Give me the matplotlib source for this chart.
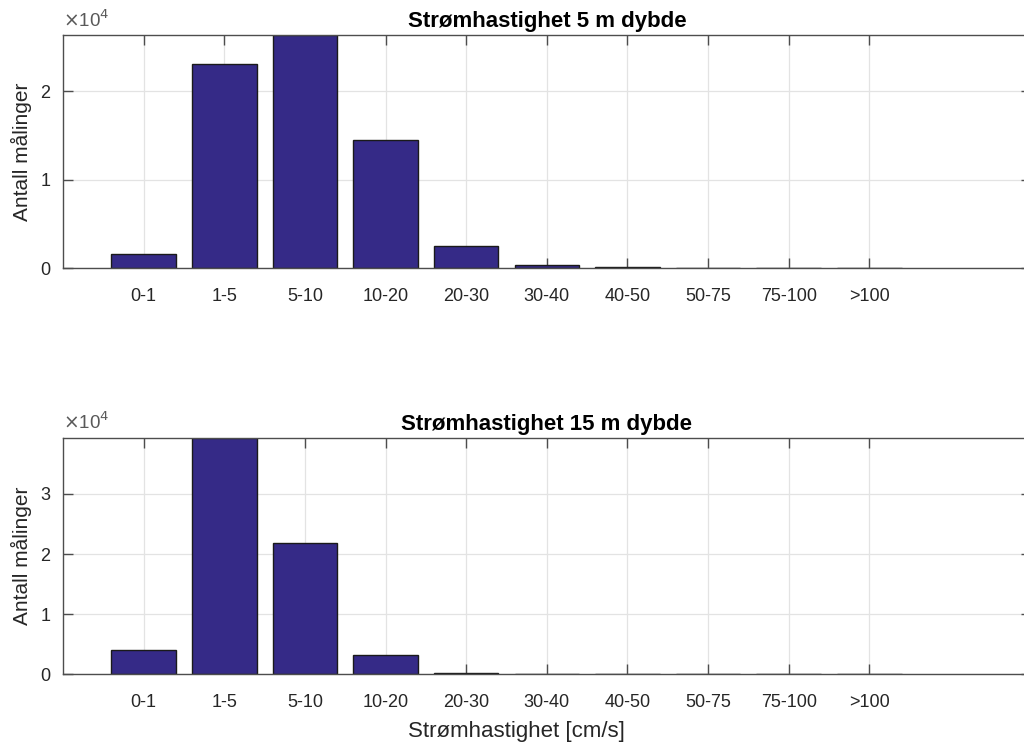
import numpy as np
import matplotlib
matplotlib.use("Agg")
import matplotlib.pyplot as plt

# speed classes (cm/s) and number of measurements in each class
classes = ["0-1", "1-5", "5-10", "10-20", "20-30", "30-40", "40-50", "50-75", "75-100", ">100"]
count_5m = [1580, 23050, 26300, 14460, 2490, 400, 80, 20, 10, 5]
count_15m = [4000, 39300, 21800, 3170, 150, 20, 5, 2, 1, 0]

plt.rcParams['font.family'] = ['Liberation Sans', 'DejaVu Sans']

bar_col = "#352a87"
axis_col = "#4d4d4d"
grid_col = "#e3e3e3"


def count_panel(ax, counts, title, ymax, yticks):
    x = np.arange(1, len(classes) + 1)
    ax.bar(x, np.array(counts) / 1e4, width=0.8, color=bar_col,
           edgecolor="#1a1a1a", linewidth=1.0, zorder=2)
    ax.set_xlim(0, 12)
    ax.set_ylim(0, ymax / 1e4)
    ax.set_xticks(x)
    ax.set_xticklabels(classes, fontsize=13, color="#262626")
    ax.set_yticks(yticks)
    ax.set_yticklabels([str(t) for t in yticks], fontsize=13, color="#262626")
    ax.grid(True, color=grid_col, linewidth=0.9, zorder=0)
    ax.set_axisbelow(True)
    ax.tick_params(direction="in", length=7, width=1.0, color=axis_col,
                   top=True, right=True)
    ax.tick_params(axis="x", pad=14)
    ax.tick_params(axis="y", pad=9)
    for s in ax.spines.values():
        s.set_color(axis_col)
        s.set_linewidth(1.0)
    ax.set_ylabel("Antall målinger", fontsize=15, color="#262626", labelpad=6)
    ax.set_title(title, fontsize=16, fontweight="bold", pad=6)
    ax.text(0.0, 1.02, r"$\times$10$^{4}$", transform=ax.transAxes,
            fontsize=13.5, color="#595959", ha="left", va="bottom")


fig = plt.figure(figsize=(10.24, 7.49), dpi=100)
ax1 = fig.add_axes([0.0615, 0.642, 0.945, 0.311])
ax2 = fig.add_axes([0.0615, 0.100, 0.945, 0.315])

count_panel(ax1, count_5m, "Strømhastighet 5 m dybde", 26300, [0, 1, 2])
count_panel(ax2, count_15m, "Strømhastighet 15 m dybde", 39300, [0, 1, 2, 3])
ax2.set_xlabel("Strømhastighet [cm/s]", fontsize=16, color="#262626", labelpad=8)
ax2.xaxis.set_label_coords(0.469, -0.20)

fig.savefig("out.png", dpi=100)
